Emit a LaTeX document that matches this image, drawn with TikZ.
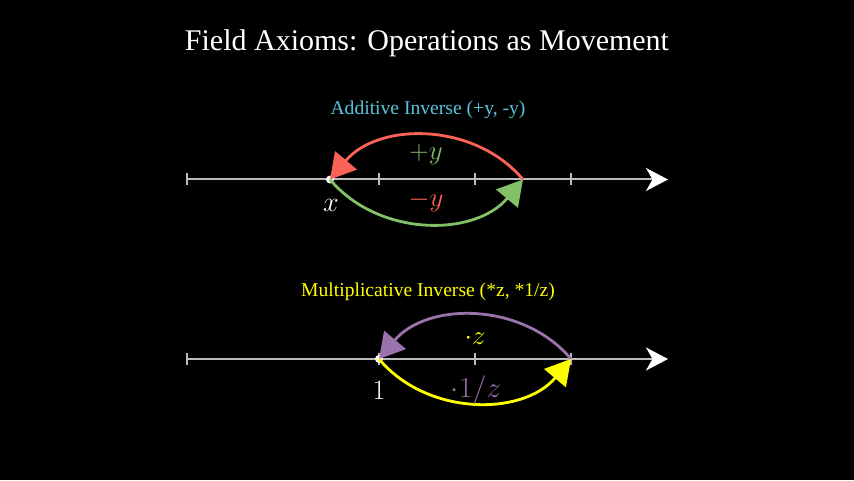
\documentclass[tikz,border=0pt]{standalone}
\usepackage{fix-cm}
\usepackage[no-math]{fontspec}
\newfontfamily\axfont{Liberation Serif}
\usepackage{tikz}
\usetikzlibrary{arrows.meta}
\definecolor{mred}{HTML}{FC6255}
\definecolor{mgreen}{HTML}{83C167}
\definecolor{mblue}{HTML}{58C4DD}
\definecolor{mpurple}{HTML}{9A72AC}
\definecolor{myellow}{HTML}{FFFF00}
\definecolor{numgrey}{HTML}{BBBBBB}

\begin{document}
\begin{tikzpicture}[x=1pt,y=1pt,every node/.style={inner sep=0pt,outer sep=0pt,anchor=base},
	axis/.style={draw=numgrey,line width=2pt,-{Stealth[length=22pt,width=23pt,inset=6.5pt,white]}},
	tickmark/.style={draw=numgrey,line width=2pt},
	ptdot/.style={circle,fill=white,minimum size=8pt,anchor=center},
	move/.style={line width=2.8pt,-{Triangle[length=25pt,width=28pt]}},
	sub/.style={font=\axfont\fontsize{19.6}{23}\selectfont},
	op/.style={font=\fontsize{27}{31}\selectfont},
	pt/.style={font=\fontsize{28}{32}\selectfont,text=white}]
	\fill[black] (0,0) rectangle (854,480);
	\node (title) [font=\axfont\fontsize{30}{36}\selectfont,text=white] at (427,429.5) {Field Axioms: Operations as Movement};
	% additive inverse
	\node (add) [sub,text=mblue] at (428,365) {Additive Inverse (+y, -y)};
	\coordinate (a0) at (187,300.5);
	\coordinate (a1) at (668,300.5);
	\draw[axis] (a0) -- (a1);
	\foreach \t in {187,379,475,571}
		\draw[tickmark] (\t,294.5) -- (\t,306.5);
	\node (x) [ptdot] at (330,300.5) {};
	\coordinate (xy) at (523,300.5);
	\draw[move,mred] (xy) to[bend right=50] (x.center);
	\draw[move,mgreen] (x.center) to[bend right=50] (xy);
	\node (plus) [op,text=mgreen] at (426,320) {$+y$};
	\node (minus) [op,text=mred] at (426,273.3) {$-y$};
	\node (xlbl) [pt] at (331,268.5) {$x$};
	% multiplicative inverse
	\node (mul) [sub,text=myellow] at (428,183.5) {Multiplicative Inverse (*z, *1/z)};
	\coordinate (m0) at (187,121);
	\coordinate (m1) at (668,121);
	\draw[axis] (m0) -- (m1);
	\foreach \t in {187,379,475,571}
		\draw[tickmark] (\t,115) -- (\t,127);
	\node (one) [ptdot] at (379,121) {};
	\coordinate (oz) at (571,121);
	\draw[move,mpurple] (oz) to[bend right=50] (one.center);
	\draw[move,myellow] (one.center) to[bend right=50] (oz);
	\node (times) [op,text=myellow] at (475,135.5) {$\cdot z$};
	\node (div) [op,text=mpurple,font=\fontsize{29}{33}\selectfont] at (476,82.2) {$\cdot 1/z$};
	\node (onelbl) [pt] at (379,80.5) {$1$};
\end{tikzpicture}
\end{document}
